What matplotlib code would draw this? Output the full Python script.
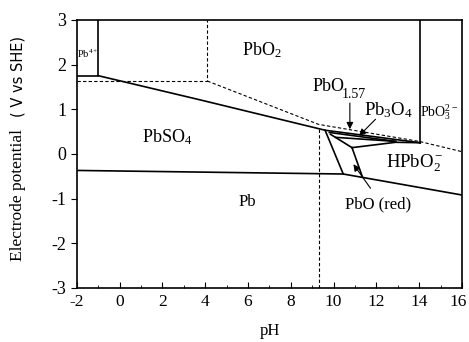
import numpy as np
import matplotlib.pyplot as plt
from matplotlib.transforms import ScaledTranslation

plt.rcParams['font.family'] = ['Liberation Serif', 'DejaVu Serif']
plt.rcParams['mathtext.fontset'] = 'custom'
plt.rcParams['mathtext.rm'] = 'Liberation Serif'
plt.rcParams['mathtext.it'] = 'Liberation Serif:italic'
plt.rcParams['axes.unicode_minus'] = False

# solid boundaries (pH, potential in V)
pb4_ph = [-2, -1, -1]
pb4_e = [1.75, 1.75, 3.0]
pbo2_ph = [-1, 3.75, 9.6, 14.05]
pbo2_e = [1.75, 1.21, 0.53, 0.25]
pbo3_ph = [14.05, 14.05]
pbo3_e = [0.25, 3.0]
pb3o4_a_ph = [9.8, 12.9]
pb3o4_a_e = [0.48, 0.28]
pb3o4_b_ph = [10.1, 12.9]
pb3o4_b_e = [0.37, 0.28]
hpbo2_top_ph = [10.86, 12.9, 14.05]
hpbo2_top_e = [0.14, 0.26, 0.25]
red_left_ph = [9.6, 10.45]
red_left_e = [0.53, -0.45]
red_top_ph = [9.85, 10.86]
red_top_e = [0.44, 0.14]
red_right_ph = [10.86, 11.35]
red_right_e = [0.14, -0.52]
pb_ph = [-2, 10.45, 16]
pb_e = [-0.37, -0.45, -0.92]

# dashed boundaries
dash_h_ph = [-2, 4.1, 4.1]
dash_h_e = [1.63, 1.63, 3.0]
dash_s_ph = [4.1, 9.3, 14.0, 16]
dash_s_e = [1.63, 0.66, 0.28, 0.05]
dash_v_ph = [9.3, 9.3]
dash_v_e = [-3.0, 0.58]

fig = plt.figure(figsize=(4.69, 3.42), dpi=100)
ax = fig.add_axes([0.164, 0.158, 0.821, 0.784])

solid = [(pb4_ph, pb4_e), (pbo2_ph, pbo2_e), (pbo3_ph, pbo3_e),
         (pb3o4_a_ph, pb3o4_a_e), (pb3o4_b_ph, pb3o4_b_e),
         (hpbo2_top_ph, hpbo2_top_e), (red_left_ph, red_left_e),
         (red_top_ph, red_top_e), (red_right_ph, red_right_e), (pb_ph, pb_e)]
for xs, ys in solid:
    ax.plot(xs, ys, color='black', lw=1.2, solid_joinstyle='miter')

for xs, ys in [(dash_h_ph, dash_h_e), (dash_s_ph, dash_s_e), (dash_v_ph, dash_v_e)]:
    ax.plot(xs, ys, color='black', lw=0.8, ls=(0, (3, 2)))

# region labels
ax.text(-1.5, 2.25, 'Pb$^{4+}$', fontsize=7.5, ha='center', va='center')
ax.text(6.65, 2.33, 'PbO$_2$', fontsize=13, ha='center', va='center')
ax.text(2.2, 0.38, 'PbSO$_4$', fontsize=13, ha='center', va='center')
ax.text(5.95, -1.07, 'Pb', fontsize=12, ha='center', va='center')
ax.text(12.1, -1.12, 'PbO (red)', fontsize=12, ha='center', va='center')
ax.text(13.8, -0.2, 'HPbO$_2^-$', fontsize=13.5, ha='center', va='center')
ax.text(9.75, 1.5, 'PbO', fontsize=13, ha='center', va='center')
ax.text(10.95, 1.32, '1.57', fontsize=10, ha='center', va='center')
ax.text(12.55, 0.98, 'Pb$_3$O$_4$', fontsize=13.5, ha='center', va='center')
ax.text(14.95, 0.93, 'PbO$_3^{2-}$', fontsize=10, ha='center', va='center')

arrow = dict(arrowstyle='-|>', color='black', lw=0.8, mutation_scale=10)
ax.annotate('', xy=(10.76, 0.49), xytext=(10.76, 1.2), arrowprops=arrow)
ax.annotate('', xy=(11.1, 0.36), xytext=(12.05, 0.82), arrowprops=arrow)
ax.annotate('', xy=(10.85, -0.18), xytext=(11.8, -0.82), arrowprops=arrow)

ax.set_xlim(-2, 16)
ax.set_ylim(-3, 3)
ax.set_xticks(np.arange(-2, 17, 2))
ax.set_xticks(np.arange(-1, 16, 2), minor=True)
ax.set_yticks(np.arange(-3, 4, 1))
ax.tick_params(axis='x', which='both', direction='in', labelsize=12.5, pad=4)
ax.tick_params(axis='x', which='major', length=4)
ax.tick_params(axis='x', which='minor', length=2.5)
ax.tick_params(axis='y', direction='out', labelsize=13, length=4)
for s in ax.spines.values():
    s.set_linewidth(1.2)

# keep the last pH label inside the figure
last = ax.xaxis.get_major_ticks()[-1].label1
last.set_transform(last.get_transform() + ScaledTranslation(-0.04, 0, fig.dpi_scale_trans))

ax.set_xlabel('pH', fontsize=12, labelpad=10)
fig.text(0.038, 0.43, 'Electrode potential', rotation=90, fontsize=12.5,
         ha='center', va='center')
fig.text(0.038, 0.775, '( V vs SHE)', rotation=90, fontsize=10.5,
         family=['DejaVu Sans'], ha='center', va='center')

fig.savefig('out.png', dpi=100)
